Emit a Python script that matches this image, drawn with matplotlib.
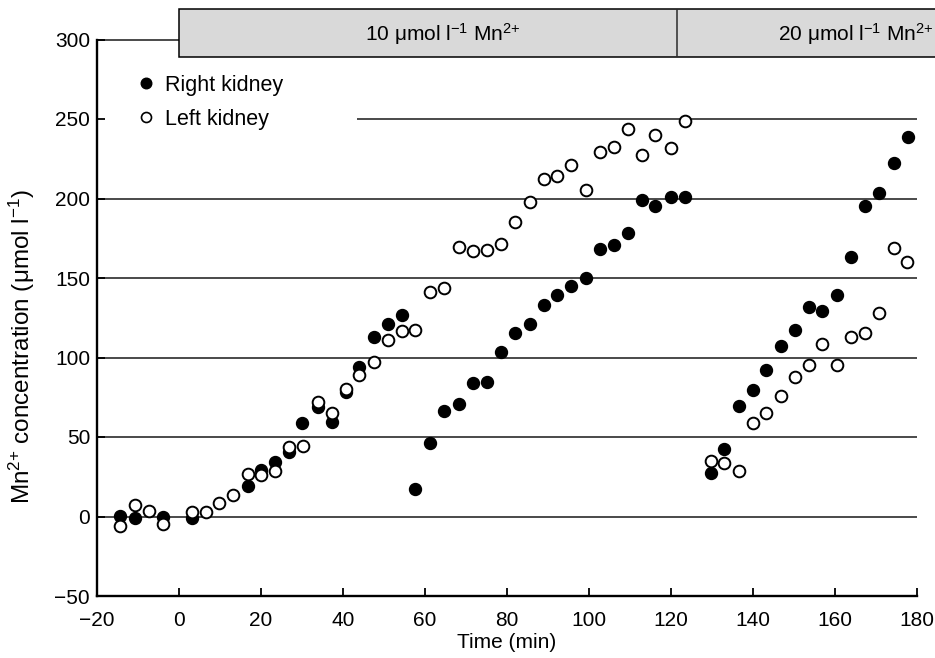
import matplotlib
matplotlib.use("Agg")
import matplotlib.pyplot as plt
from matplotlib.patches import Rectangle
from matplotlib.lines import Line2D

plt.rcParams['font.family'] = ['Liberation Sans', 'DejaVu Sans']
plt.rcParams['mathtext.fontset'] = 'custom'
plt.rcParams['mathtext.rm'] = 'Liberation Sans'
plt.rcParams['mathtext.it'] = 'Liberation Sans:italic'
plt.rcParams['axes.unicode_minus'] = True

# --- data ---
right_t = [-14.4, -10.7, -4.0, 3.1, 16.9, 20.0, 23.5, 26.9, 30.1, 33.8, 37.3, 40.7,
           43.9, 47.6, 51.0, 54.3, 57.6, 61.3, 64.7, 68.3, 71.8, 75.2, 78.6, 82.0,
           85.5, 89.0, 92.3, 95.7, 99.3, 102.6, 106.0, 109.5, 112.9, 116.2, 119.9, 123.3,
           129.8, 133.0, 136.5, 140.1, 143.2, 146.8, 150.2, 153.7, 156.9, 160.5, 164.0,
           167.3, 170.8, 174.3, 177.8]
right_mn = [0.5, -1, -0.5, -1, 19, 29.5, 34, 40.5, 58.5, 69, 59.7, 78,
            94, 113, 121, 127, 17.4, 46.5, 66.6, 70.5, 84, 84.5, 103.4, 115.7,
            121, 133, 139, 145, 149.7, 168.4, 171, 178.3, 199, 195, 201, 201,
            27.6, 42.5, 69.6, 79.7, 92.3, 107.4, 117.2, 131.7, 129.2, 139, 163.4,
            195, 203.5, 222.3, 238.5]

left_t = [-14.4, -10.7, -7.2, -4.0, 3.1, 6.5, 9.7, 13.2, 16.9, 20.0, 23.5, 26.9,
          30.3, 33.8, 37.3, 40.7, 43.9, 47.6, 51.0, 54.3, 57.6, 61.3, 64.7, 68.3,
          71.8, 75.2, 78.6, 82.0, 85.5, 89.0, 92.3, 95.7, 99.3, 102.6, 106.0, 109.5,
          112.9, 116.2, 119.9, 123.3, 129.8, 133.0, 136.5, 140.1, 143.2, 146.8, 150.2,
          153.7, 156.9, 160.5, 164.0, 167.3, 170.8, 174.3, 177.5]
left_mn = [-5.7, 7.3, 3.5, -4.7, 2.8, 3, 8.4, 13.6, 26.6, 25.8, 28.9, 44,
           44.6, 72, 65.4, 80, 89, 97, 110.7, 116.4, 117.4, 141.5, 143.7, 169.5,
           167.2, 167.8, 171.1, 185.2, 197.5, 212.5, 213.9, 220.8, 205.1, 229.3, 232.2, 243.7,
           227.6, 239.7, 231.5, 249, 34.6, 33.9, 28.7, 59.1, 65, 75.5, 87.7,
           95.4, 108.4, 95.4, 112.8, 115.7, 127.9, 168.6, 159.8]

# perfusion phases (start, end) in minutes
phase_edges = [0, 121.4, 190]
phase_labels = [r'10 μmol l$^{\mathregular{-1}}$ Mn$^{\mathregular{2{+}}}$',
                r'20 μmol l$^{\mathregular{-1}}$ Mn$^{\mathregular{2{+}}}$']

grid_levels = [0, 50, 100, 150, 200]
x_ticks = list(range(-20, 181, 20))
y_ticks = [-50, 0, 50, 100, 150, 200, 250, 300]

fs = 15
fig = plt.figure(figsize=(9.35, 6.58), dpi=100)
ax = fig.add_axes([97 / 935, 62 / 658, 820 / 935, 556.5 / 658])

line_col = '#2b2b2b'
ax.hlines(grid_levels, -20, 180, color=line_col, lw=1.2, zorder=1)
ax.hlines(250, 43.5, 180, color=line_col, lw=1.2, zorder=1)
ax.hlines(300, -20, 0, color=line_col, lw=1.2, zorder=1, clip_on=False)

ax.plot(right_t, right_mn, 'o', ms=8.6, mfc='black', mec='black', zorder=3)
ax.plot(left_t, left_mn, 'o', ms=8.4, mfc='white', mec='black', mew=1.4, zorder=4)

# phase box above the axes
box_lo, box_hi = 289, 319
ax.add_patch(Rectangle((phase_edges[0], box_lo), phase_edges[-1] - phase_edges[0],
                       box_hi - box_lo, facecolor='#d9d9d9', edgecolor='black',
                       lw=1.1, clip_on=False, zorder=5))
ax.vlines(phase_edges[1], box_lo, box_hi, color=line_col, lw=1.1, clip_on=False, zorder=6)
ax.text(phase_edges[0] + 45.3, 303.5, phase_labels[0], fontsize=15, va='center',
        ha='left', zorder=7, clip_on=False)
ax.text(phase_edges[1] + 24.6, 303.5, phase_labels[1], fontsize=15, va='center',
        ha='left', zorder=7, clip_on=False)

ax.set_xlim(-20, 180)
ax.set_ylim(-50, 300)
ax.set_xticks(x_ticks)
ax.set_yticks(y_ticks)
ax.tick_params(direction='in', length=6, width=1.3, labelsize=fs)
ax.tick_params(axis='x', pad=11)
ax.tick_params(axis='y', pad=5)
for s in ['top', 'right']:
    ax.spines[s].set_visible(False)
for s in ['left', 'bottom']:
    ax.spines[s].set_linewidth(1.7)

ax.set_xlabel('Time (min)', fontsize=fs, labelpad=2)
ax.set_ylabel(r'Mn$^{\mathregular{2{+}}}$ concentration (μmol l$^{\mathregular{-1}}$)',
              fontsize=17.5)
ax.yaxis.set_label_coords(-0.073, 0.449)

handles = [Line2D([], [], ls='none', marker='o', ms=7.6, mfc='black', mec='black'),
           Line2D([], [], ls='none', marker='o', ms=7.2, mfc='white', mec='black', mew=1.2)]
ax.legend(handles, ['Right kidney', 'Left kidney'], loc='upper left',
          bbox_to_anchor=(0.049, 0.937), frameon=False, fontsize=15.5,
          handlelength=0.8, handletextpad=0.5, borderpad=0, borderaxespad=0,
          labelspacing=0.62)

plt.savefig('out.png', dpi=100)
